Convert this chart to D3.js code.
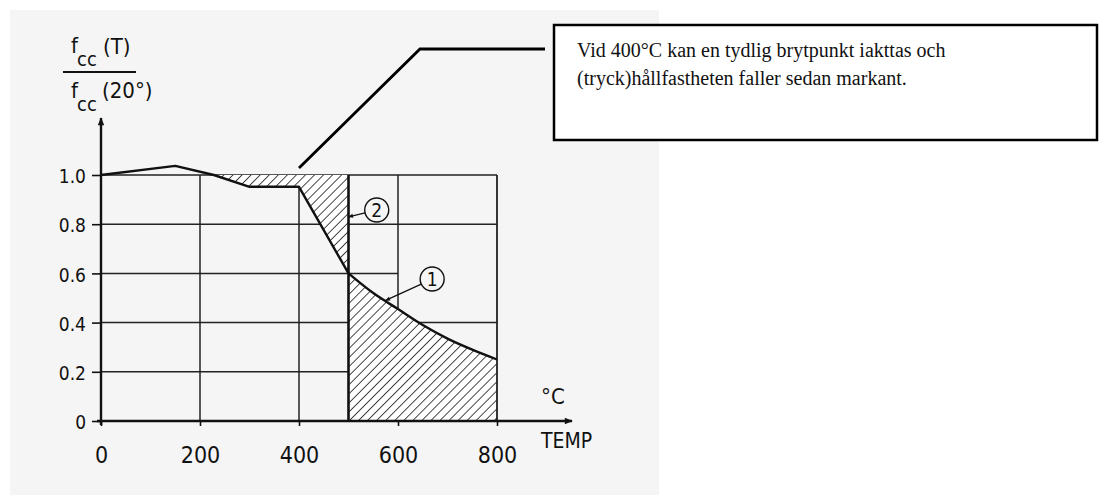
<!DOCTYPE html>
<html>
<head>
<meta charset="utf-8">
<script src="https://cdn.jsdelivr.net/npm/d3@7"></script>
<style>
  body { margin: 0; background: #fff; }
  svg text { font-family: "DejaVu Sans Condensed", "Liberation Sans Narrow", "DejaVu Sans", sans-serif; fill: #111; }
  .note { font-family: "Liberation Serif", "DejaVu Serif", serif; font-size: 20px; }
</style>
</head>
<body>
<div id="chart"></div>
<script>
// temperature (°C) and relative strength f_cc(T)/f_cc(20°)
const curve2T = [0, 150, 228, 300, 400, 500];
const curve2V = [1.0, 1.037, 1.0, 0.952, 0.952, 0.6];
const curve1T = [500, 550, 600, 650, 700, 750, 800];
const curve1V = [0.6, 0.52, 0.455, 0.39, 0.335, 0.29, 0.25];

const xTicks = [0, 200, 400, 600, 800];
const yTicks = [0, 0.2, 0.4, 0.6, 0.8, 1.0];

// grid segments in data units (the original figure leaves some cells open)
const hGrid = [[1.0, 0, 800], [0.8, 0, 800], [0.6, 0, 600], [0.4, 0, 500], [0.4, 636, 800], [0.2, 0, 500]];
const vGrid = [[200, 0, 1], [400, 0, 1], [600, 0.455, 1]];

// curve markers: label, circle centre, point the leader points at
const markers = [
  {label: "2", t: 557, v: 0.858, pt: 500, pv: 0.83},
  {label: "1", t: 669, v: 0.577, pt: 575, pv: 0.49}
];

const noteLines = [
  "Vid 400°C kan en tydlig brytpunkt iakttas och",
  "(tryck)hållfastheten faller sedan markant."
];

const width = 1104, height = 500;
const x = d3.scaleLinear().domain([0, 800]).range([101, 497]);
const y = d3.scaleLinear().domain([0, 1]).range([421, 175]);

const svg = d3.select('#chart').append('svg')
  .attr('width', width).attr('height', height);

// scanned page background
svg.append('rect').attr('x', 10).attr('y', 10).attr('width', 649).attr('height', 485)
  .attr('fill', '#f5f5f5');

const defs = svg.append('defs');
defs.append('pattern').attr('id', 'hatch')
  .attr('patternUnits', 'userSpaceOnUse').attr('width', 6.4).attr('height', 6.4)
  .attr('patternTransform', 'rotate(45)')
  .append('line').attr('x1', 0).attr('y1', 0).attr('x2', 0).attr('y2', 6.4)
  .attr('stroke', '#1a1a1a').attr('stroke-width', 1.6);
defs.append('marker').attr('id', 'arr').attr('viewBox', '0 0 10 10')
  .attr('refX', 9).attr('refY', 5).attr('markerWidth', 22).attr('markerHeight', 8)
  .attr('markerUnits', 'userSpaceOnUse').attr('orient', 'auto')
  .append('path').attr('d', 'M0,1L10,5L0,9Z').attr('fill', '#111');
defs.append('marker').attr('id', 'small').attr('viewBox', '0 0 10 10')
  .attr('refX', 1).attr('refY', 5).attr('markerWidth', 7).attr('markerHeight', 5)
  .attr('markerUnits', 'userSpaceOnUse').attr('orient', 'auto')
  .append('path').attr('d', 'M10,1L0,5L10,9Z').attr('fill', '#111');

// grid
const grid = svg.append('g').attr('stroke', '#222').attr('stroke-width', 1.5);
grid.selectAll('.h').data(hGrid).join('line')
  .attr('x1', d => x(d[1])).attr('x2', d => x(d[2]))
  .attr('y1', d => y(d[0])).attr('y2', d => y(d[0]));
grid.selectAll('.v').data(vGrid).join('line')
  .attr('x1', d => x(d[0])).attr('x2', d => x(d[0]))
  .attr('y1', d => y(d[1])).attr('y2', d => y(d[2]));

// hatched areas
const c2 = curve2T.map((t, i) => [t, curve2V[i]]);
const c1 = curve1T.map((t, i) => [t, curve1V[i]]);
const area2 = c2.slice(2).concat([[500, 1.0]]);
const area1 = c1.concat([[800, 0], [500, 0]]);
const poly = d3.line().x(d => x(d[0])).y(d => y(d[1]));
[area2, area1].forEach(a => {
  svg.append('path').attr('d', poly(a) + 'Z').attr('fill', '#fff');
  svg.append('path').attr('d', poly(a) + 'Z').attr('fill', 'url(#hatch)');
});

// boundary verticals at 500 and 800
svg.append('line').attr('x1', x(500)).attr('x2', x(500)).attr('y1', y(0)).attr('y2', y(1))
  .attr('stroke', '#111').attr('stroke-width', 2.6);
svg.append('line').attr('x1', x(800)).attr('x2', x(800)).attr('y1', y(0)).attr('y2', y(1))
  .attr('stroke', '#222').attr('stroke-width', 1.8);

// curves
const curve = d3.line().x(d => x(d[0])).y(d => y(d[1]));
svg.append('path').attr('d', curve(c2)).attr('fill', 'none')
  .attr('stroke', '#111').attr('stroke-width', 2.4).attr('stroke-linejoin', 'round');
svg.append('path').attr('d', d3.line().curve(d3.curveMonotoneX).x(d => x(d[0])).y(d => y(d[1]))(c1))
  .attr('fill', 'none').attr('stroke', '#111').attr('stroke-width', 2.4);

// axes
const xAxis = svg.append('g').attr('transform', `translate(0,${y(0)})`)
  .call(d3.axisBottom(x).tickValues(xTicks).tickSize(5).tickPadding(21));
xAxis.select('.domain').remove();
xAxis.selectAll('text').style('font-size', '23px');
xAxis.selectAll('line').attr('stroke', '#111').attr('stroke-width', 1.6);

const yAxis = svg.append('g').attr('transform', `translate(${x(0)},0)`)
  .call(d3.axisLeft(y).tickValues(yTicks).tickSize(9).tickPadding(6)
    .tickFormat(d => d === 0 ? '0' : d.toFixed(1)));
yAxis.select('.domain').remove();
yAxis.selectAll('text').style('font-size', '19px').attr('dy', '0.4em');
yAxis.selectAll('line').attr('stroke', '#111').attr('stroke-width', 1.6);

svg.append('line').attr('x1', x(0) - 4).attr('x2', 572).attr('y1', y(0)).attr('y2', y(0))
  .attr('stroke', '#111').attr('stroke-width', 2.4).attr('marker-end', 'url(#arr)');
svg.append('line').attr('x1', x(0)).attr('x2', x(0)).attr('y1', y(0) + 4).attr('y2', 118)
  .attr('stroke', '#111').attr('stroke-width', 2.4).attr('marker-end', 'url(#arr)');

svg.append('text').attr('x', 541).attr('y', 404).style('font-size', '22px').text('°C');
svg.append('text').attr('x', 541).attr('y', 448).style('font-size', '21px').text('TEMP');

// y label as fraction
const lab = svg.append('g').style('font-size', '22px');
lab.append('text').attr('x', 71).attr('y', 53).text('f');
lab.append('text').attr('x', 77).attr('y', 66).style('font-size', '20px').text('cc');
lab.append('text').attr('x', 103).attr('y', 54).text('(T)');
lab.append('line').attr('x1', 63).attr('x2', 136).attr('y1', 72).attr('y2', 72)
  .attr('stroke', '#111').attr('stroke-width', 2);
lab.append('text').attr('x', 71).attr('y', 98).text('f');
lab.append('text').attr('x', 77).attr('y', 111).style('font-size', '20px').text('cc');
lab.append('text').attr('x', 102).attr('y', 98).text('(20°)');

// numbered markers
const r = 12;
markers.forEach(m => {
  const cx = x(m.t), cy = y(m.v), px = x(m.pt), py = y(m.pv);
  const a = Math.atan2(cy - py, cx - px);
  svg.append('line').attr('x1', px).attr('y1', py)
    .attr('x2', cx - r * Math.cos(a)).attr('y2', cy - r * Math.sin(a))
    .attr('stroke', '#111').attr('stroke-width', 1.3).attr('marker-start', 'url(#small)');
  svg.append('circle').attr('cx', cx).attr('cy', cy).attr('r', r)
    .attr('fill', 'none').attr('stroke', '#111').attr('stroke-width', 1.4);
  svg.append('text').attr('x', cx).attr('y', cy).attr('dy', '0.36em')
    .attr('text-anchor', 'middle').style('font-size', '19px').text(m.label);
});

// callout
svg.append('polyline').attr('points', `${x(400)},168 420,49 545,49`)
  .attr('fill', 'none').attr('stroke', '#000').attr('stroke-width', 2.8);
svg.append('rect').attr('x', 554).attr('y', 25).attr('width', 543).attr('height', 115)
  .attr('fill', '#fff').attr('stroke', '#000').attr('stroke-width', 2.5);
svg.append('text').attr('class', 'note').attr('x', 577).attr('y', 57)
  .selectAll('tspan').data(noteLines).join('tspan')
  .attr('x', 577).attr('dy', (d, i) => i ? 28 : 0).text(d => d);
</script>
</body>
</html>
